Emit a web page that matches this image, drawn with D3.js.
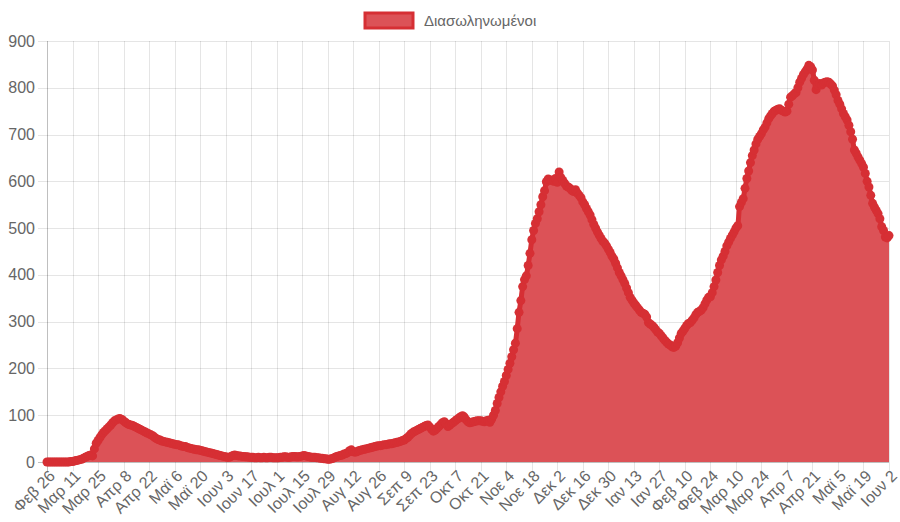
<!DOCTYPE html>
<html>
<head>
<meta charset="utf-8">
<script src="https://cdn.jsdelivr.net/npm/d3@7"></script>
<style>
  html, body { margin: 0; padding: 0; background: #fff; }
  svg { display: block; font-family: "Liberation Sans", Arial, Helvetica, sans-serif; }
</style>
</head>
<body>
<svg id="chart" width="900" height="522"></svg>
<script>
// Series label
const seriesName = "Διασωληνωμένοι";

// Tick labels (every 14 days, starting 26 Feb 2020)
const tickLabels = ["Φεβ 26","Μαρ 11","Μαρ 25","Απρ 8","Απρ 22","Μαϊ 6","Μαϊ 20","Ιουν 3","Ιουν 17","Ιουλ 1","Ιουλ 15","Ιουλ 29","Αυγ 12","Αυγ 26","Σεπ 9","Σεπ 23","Οκτ 7","Οκτ 21","Νοε 4","Νοε 18","Δεκ 2","Δεκ 16","Δεκ 30","Ιαν 13","Ιαν 27","Φεβ 10","Φεβ 24","Μαρ 10","Μαρ 24","Απρ 7","Απρ 21","Μαϊ 5","Μαϊ 19","Ιουν 2"];

// Y axis ticks
const yTicks = [0,100,200,300,400,500,600,700,800,900];

// Daily values (one row per 14-day tick interval)
const values = [
  0,0,0,0,0,0,0,0,0,0,0,0,0,1,
  1,2,3,4,5,6,8,10,12,14,15,13,28,40,
  46,52,58,63,67,71,75,79,84,88,90,92,93,91,
  88,85,82,80,79,78,76,74,72,70,68,66,64,62,
  60,58,56,53,50,48,47,45,44,43,42,41,40,39,
  38,37,37,35,34,33,33,31,30,29,28,27,26,26,
  25,24,23,22,21,20,19,18,17,16,15,14,13,12,
  11,10,10,12,14,15,14,13,13,12,12,11,11,10,
  10,10,9,9,10,9,9,10,9,9,10,10,9,9,
  9,9,10,10,11,11,10,10,11,12,12,11,11,12,
  13,14,13,12,11,10,10,10,9,9,8,8,7,7,
  6,6,7,8,10,12,13,14,15,17,18,20,24,26,
  22,21,22,24,25,26,27,28,29,30,31,32,33,34,
  35,35,36,37,37,38,39,39,40,41,42,43,44,46,
  47,50,53,57,61,64,66,68,70,72,74,76,78,79,
  75,70,66,68,72,76,80,84,86,82,76,79,82,85,
  88,91,94,97,99,96,90,86,84,85,86,87,88,88,
  88,87,86,88,89,85,92,100,110,125,138,150,162,172,
  185,198,211,225,240,254,285,320,345,375,390,398,420,446,
  475,495,510,520,535,550,567,580,599,605,603,602,600,606,
  598,620,608,602,596,590,588,585,580,578,582,575,570,565,
  556,550,542,535,528,518,508,500,492,485,478,472,468,462,
  455,448,440,434,425,415,405,398,390,382,372,362,352,346,
  340,335,330,325,320,318,316,310,298,295,292,288,283,278,
  275,270,265,260,256,252,250,246,245,248,255,265,275,280,
  286,292,296,298,303,308,315,320,322,325,330,338,346,352,
  353,362,375,389,405,420,432,440,450,462,470,478,485,492,
  500,505,546,555,563,585,606,622,640,655,667,680,690,696,
  702,710,716,725,734,740,745,750,752,754,755,752,750,748,
  750,765,780,783,787,790,800,812,820,828,834,840,848,845,
  838,816,796,805,809,806,810,812,813,812,808,804,795,785,
  773,765,755,745,738,731,720,706,690,667,660,652,645,638,
  630,617,600,588,570,553,545,538,531,520,503,495,481,479,
  484
];

const lineColor = "#d62f34";
const fillColor = "#dc5257";
const textColor = "#666";
const gridColor = "rgba(0,0,0,0.1)";

const svg = d3.select("#chart");
const plotL = 47, plotR = 889, plotT = 41, plotB = 462;

const x = d3.scaleLinear().domain([0, values.length - 1]).range([plotL, plotR]);
const y = d3.scaleLinear().domain([0, 900]).range([plotB, plotT]);

const tickDays = tickLabels.map((_, i) => i * 14);

// Grid lines
const grid = svg.append("g");
grid.selectAll("line.v").data(tickDays).join("line")
  .attr("x1", d => Math.round(x(d)) + 0.5).attr("x2", d => Math.round(x(d)) + 0.5)
  .attr("y1", plotT).attr("y2", plotB + 9)
  .attr("stroke", (d, i) => i === 0 ? "rgba(0,0,0,0.25)" : gridColor).attr("stroke-width", 1);
grid.selectAll("line.h").data(yTicks).join("line")
  .attr("x1", plotL - 9).attr("x2", plotR)
  .attr("y1", d => Math.round(y(d)) + 0.5).attr("y2", d => Math.round(y(d)) + 0.5)
  .attr("stroke", d => d === 0 ? "rgba(0,0,0,0.25)" : gridColor).attr("stroke-width", 1);

// Y tick labels
svg.append("g").selectAll("text").data(yTicks).join("text")
  .attr("x", plotL - 12).attr("y", d => y(d))
  .attr("dy", "0.35em")
  .attr("text-anchor", "end")
  .attr("font-size", 16)
  .attr("fill", textColor)
  .text(d => d);

// X tick labels (rotated)
svg.append("g").selectAll("text").data(tickDays).join("text")
  .attr("transform", d => `translate(${x(d) + 5},${plotB + 11}) rotate(-45)`)
  .attr("text-anchor", "end")
  .attr("dy", "0.35em")
  .attr("font-size", 16)
  .attr("fill", textColor)
  .text((d, i) => tickLabels[i]);

// Area
const area = d3.area()
  .x((d, i) => x(i))
  .y0(y(0))
  .y1(d => y(d))
  .curve(d3.curveMonotoneX);
svg.append("path").datum(values)
  .attr("d", area)
  .attr("fill", fillColor);

// Line
const line = d3.line()
  .x((d, i) => x(i))
  .y(d => y(d))
  .curve(d3.curveMonotoneX);
svg.append("path").datum(values)
  .attr("d", line)
  .attr("fill", "none")
  .attr("stroke", lineColor)
  .attr("stroke-width", 5);

// Points
svg.append("g").selectAll("circle").data(values).join("circle")
  .attr("cx", (d, i) => x(i))
  .attr("cy", d => y(d))
  .attr("r", 4.5)
  .attr("fill", lineColor);

// Legend
const lg = svg.append("g");
lg.append("rect")
  .attr("x", 365).attr("y", 13).attr("width", 48).attr("height", 15)
  .attr("fill", fillColor).attr("stroke", lineColor).attr("stroke-width", 3);
lg.append("text")
  .attr("x", 424).attr("y", 21)
  .attr("dy", "0.35em")
  .attr("font-size", 15)
  .attr("fill", textColor)
  .text(seriesName);
</script>
</body>
</html>
